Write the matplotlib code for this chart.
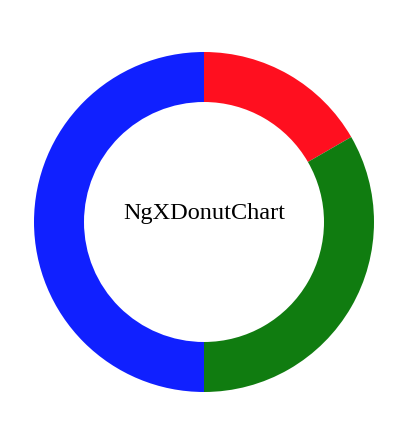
import matplotlib.pyplot as plt

# data
labels = ["A", "B", "C"]
values = [1, 2, 3]
colors = ["#ff0f1f", "#107c10", "#1020ff"]

fig = plt.figure(figsize=(4.1, 4.48), dpi=100)
# axes placed so the ring is centred at about (204, 222) px with radius 170
ax = fig.add_axes([(204 - 170) / 410, 1 - (222 + 170) / 448, 340 / 410, 340 / 448])
ax.pie(values, colors=colors, startangle=90, counterclock=False,
       radius=1, wedgeprops=dict(width=50 / 170, linewidth=0))
ax.set_aspect("equal")
ax.set_xlim(-1, 1)
ax.set_ylim(-1, 1)
ax.text(0, 0.05, "NgXDonutChart", ha="center", va="center",
        fontsize=17.5, family="Liberation Serif")
ax.axis("off")

fig.savefig("out.png", dpi=100)
